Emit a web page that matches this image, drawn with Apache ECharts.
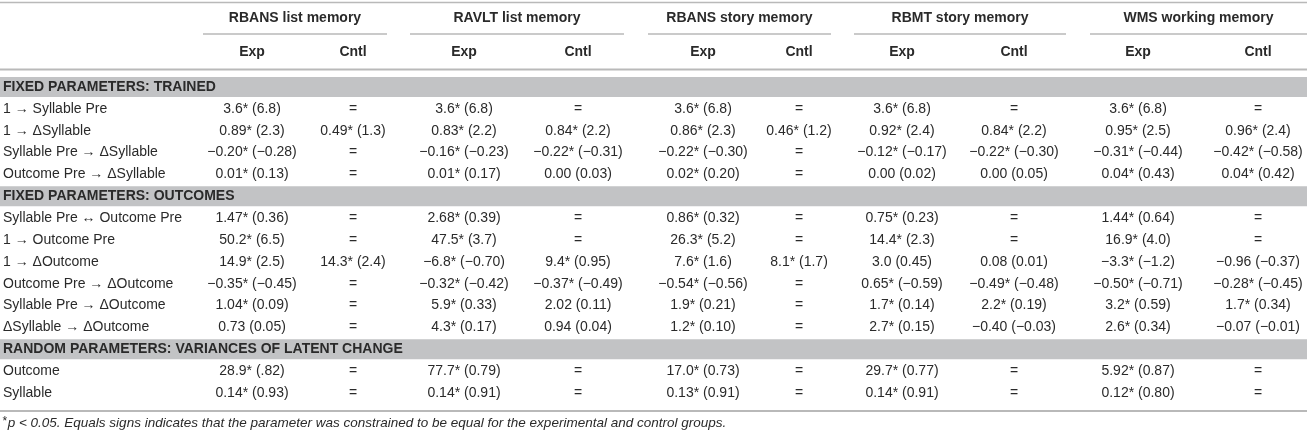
<!DOCTYPE html>
<html>
<head>
<meta charset="utf-8">
<script src="https://cdn.jsdelivr.net/npm/echarts@6/dist/echarts.min.js"></script>
<style>
  html, body { margin: 0; padding: 0; background: #fff; }
  #main { width: 1307px; height: 436px; }
</style>
</head>
<body>
<div id="main"></div>
<script>
// ---- data ----
const measures = ['RBANS list memory', 'RAVLT list memory', 'RBANS story memory', 'RBMT story memory', 'WMS working memory']
const groupCols = ['Exp', 'Cntl']

const trainedTitle = 'FIXED PARAMETERS: TRAINED'
const trainedLabels = ['1 \u2192 Syllable Pre', '1 \u2192 \u0394Syllable', 'Syllable Pre \u2192 \u0394Syllable', 'Outcome Pre \u2192 \u0394Syllable']
const trainedValues = [
  ['3.6* (6.8)', '=', '3.6* (6.8)', '=', '3.6* (6.8)', '=', '3.6* (6.8)', '=', '3.6* (6.8)', '='],
  ['0.89* (2.3)', '0.49* (1.3)', '0.83* (2.2)', '0.84* (2.2)', '0.86* (2.3)', '0.46* (1.2)', '0.92* (2.4)', '0.84* (2.2)', '0.95* (2.5)', '0.96* (2.4)'],
  ['\u22120.20* (\u22120.28)', '=', '\u22120.16* (\u22120.23)', '\u22120.22* (\u22120.31)', '\u22120.22* (\u22120.30)', '=', '\u22120.12* (\u22120.17)', '\u22120.22* (\u22120.30)', '\u22120.31* (\u22120.44)', '\u22120.42* (\u22120.58)'],
  ['0.01* (0.13)', '=', '0.01* (0.17)', '0.00 (0.03)', '0.02* (0.20)', '=', '0.00 (0.02)', '0.00 (0.05)', '0.04* (0.43)', '0.04* (0.42)']
]

const outcomeTitle = 'FIXED PARAMETERS: OUTCOMES'
const outcomeLabels = ['Syllable Pre \u2194 Outcome Pre', '1 \u2192 Outcome Pre', '1 \u2192 \u0394Outcome', 'Outcome Pre \u2192 \u0394Outcome', 'Syllable Pre \u2192 \u0394Outcome', '\u0394Syllable \u2192 \u0394Outcome']
const outcomeValues = [
  ['1.47* (0.36)', '=', '2.68* (0.39)', '=', '0.86* (0.32)', '=', '0.75* (0.23)', '=', '1.44* (0.64)', '='],
  ['50.2* (6.5)', '=', '47.5* (3.7)', '=', '26.3* (5.2)', '=', '14.4* (2.3)', '=', '16.9* (4.0)', '='],
  ['14.9* (2.5)', '14.3* (2.4)', '\u22126.8* (\u22120.70)', '9.4* (0.95)', '7.6* (1.6)', '8.1* (1.7)', '3.0 (0.45)', '0.08 (0.01)', '\u22123.3* (\u22121.2)', '\u22120.96 (\u22120.37)'],
  ['\u22120.35* (\u22120.45)', '=', '\u22120.32* (\u22120.42)', '\u22120.37* (\u22120.49)', '\u22120.54* (\u22120.56)', '=', '0.65* (\u22120.59)', '\u22120.49* (\u22120.48)', '\u22120.50* (\u22120.71)', '\u22120.28* (\u22120.45)'],
  ['1.04* (0.09)', '=', '5.9* (0.33)', '2.02 (0.11)', '1.9* (0.21)', '=', '1.7* (0.14)', '2.2* (0.19)', '3.2* (0.59)', '1.7* (0.34)'],
  ['0.73 (0.05)', '=', '4.3* (0.17)', '0.94 (0.04)', '1.2* (0.10)', '=', '2.7* (0.15)', '\u22120.40 (\u22120.03)', '2.6* (0.34)', '\u22120.07 (\u22120.01)']
]

const randomTitle = 'RANDOM PARAMETERS: VARIANCES OF LATENT CHANGE'
const randomLabels = ['Outcome', 'Syllable']
const randomValues = [
  ['28.9* (.82)', '=', '77.7* (0.79)', '=', '17.0* (0.73)', '=', '29.7* (0.77)', '=', '5.92* (0.87)', '='],
  ['0.14* (0.93)', '=', '0.14* (0.91)', '=', '0.13* (0.91)', '=', '0.14* (0.91)', '=', '0.12* (0.80)', '=']
]

const footText = 'p < 0.05. Equals signs indicates that the parameter was constrained to be equal for the experimental and control groups.'

// ---- layout (x in page units along a 0..1307 axis) ----
const colCenters = [252, 353, 464, 578, 703, 799, 902, 1014, 1138, 1258]
const groupSpans = [[203, 387], [410, 624], [648, 831], [854, 1066], [1090, 1307]]
const textColor = '#2a2a2a'
const lineColor = '#b9b9b9'
const bandColor = '#c2c3c5'
const font = '"Liberation Sans", Arial, sans-serif'
const fs = 14

// build row list: section bands + data rows
const sections = [
  [trainedTitle, trainedLabels, trainedValues],
  [outcomeTitle, outcomeLabels, outcomeValues],
  [randomTitle, randomLabels, randomValues]
]
const rowIds = []
const bandRows = []
const labelRows = []
const cellRows = []
sections.forEach(([title, labels, values]) => {
  bandRows.push({ row: rowIds.length, text: title })
  rowIds.push('s' + rowIds.length)
  labels.forEach((lab, i) => {
    const r = rowIds.length
    labelRows.push({ row: r, text: lab })
    values[i].forEach((v, c) => cellRows.push({ row: r, col: c, text: v }))
    rowIds.push('r' + r)
  })
})

const chart = echarts.init(document.getElementById('main'))

function txt(x, y, text, align, bold) {
  return {
    type: 'text', x: x, y: y,
    style: {
      text: text, fill: textColor, fontSize: fs, fontWeight: bold ? 'bold' : 'normal', fontFamily: font,
      align: align, verticalAlign: 'middle', textAlign: align, textVerticalAlign: 'middle'
    }
  }
}

const headerGraphics = []
headerGraphics.push({ type: 'line', shape: { x1: 0, y1: 2.5, x2: 1307, y2: 2.5 }, style: { stroke: lineColor, lineWidth: 1.5 } })
measures.forEach((m, g) => {
  const [a, b] = groupSpans[g]
  headerGraphics.push(txt((a + b) / 2, 18, m, 'center', true))
  headerGraphics.push({ type: 'line', shape: { x1: a, y1: 34, x2: b, y2: 34 }, style: { stroke: lineColor, lineWidth: 1.5 } })
  groupCols.forEach((gc, k) => {
    headerGraphics.push(txt(colCenters[g * 2 + k], 52, gc, 'center', true))
  })
})
headerGraphics.push({ type: 'line', shape: { x1: 0, y1: 69.5, x2: 1307, y2: 69.5 }, style: { stroke: lineColor, lineWidth: 2 } })
headerGraphics.push({ type: 'line', shape: { x1: 0, y1: 411, x2: 1307, y2: 411 }, style: { stroke: lineColor, lineWidth: 2 } })
headerGraphics.push({
  type: 'text', x: 2, y: 423,
  style: {
    text: '{s|*}{i|' + footText + '}',
    rich: {
      s: { fontSize: 12, fontStyle: 'italic', fontFamily: font, fill: textColor, padding: [0, 1, 3, 0] },
      i: { fontSize: 13.5, fontStyle: 'italic', fontFamily: font, fill: textColor }
    },
    align: 'left', verticalAlign: 'middle', textAlign: 'left', textVerticalAlign: 'middle'
  }
})

const option = {
  animation: false,
  grid: { left: 0, right: 0, top: 76, height: 328 },
  xAxis: { type: 'value', min: 0, max: 1307, show: false },
  yAxis: { type: 'category', data: rowIds, inverse: true, show: false },
  graphic: headerGraphics,
  series: [
    {
      type: 'custom',
      data: bandRows.map(b => [0, b.row]),
      renderItem: (params, api) => {
        const p = api.coord([0, api.value(1)])
        const cs = params.coordSys
        return {
          type: 'group',
          children: [
            { type: 'rect', shape: { x: cs.x, y: p[1] - 10, width: cs.width, height: 20 }, style: { fill: bandColor } },
            txt(cs.x + 3, p[1], bandRows[params.dataIndex].text, 'left', true)
          ]
        }
      }
    },
    {
      type: 'custom',
      data: labelRows.map(l => [3, l.row]),
      renderItem: (params, api) => {
        const p = api.coord([api.value(0), api.value(1)])
        return txt(p[0], p[1], labelRows[params.dataIndex].text, 'left', false)
      }
    },
    {
      type: 'custom',
      data: cellRows.map(c => [colCenters[c.col], c.row]),
      renderItem: (params, api) => {
        const p = api.coord([api.value(0), api.value(1)])
        return txt(p[0], p[1], cellRows[params.dataIndex].text, 'center', false)
      }
    }
  ]
}
chart.setOption(option)
</script>
</body>
</html>
